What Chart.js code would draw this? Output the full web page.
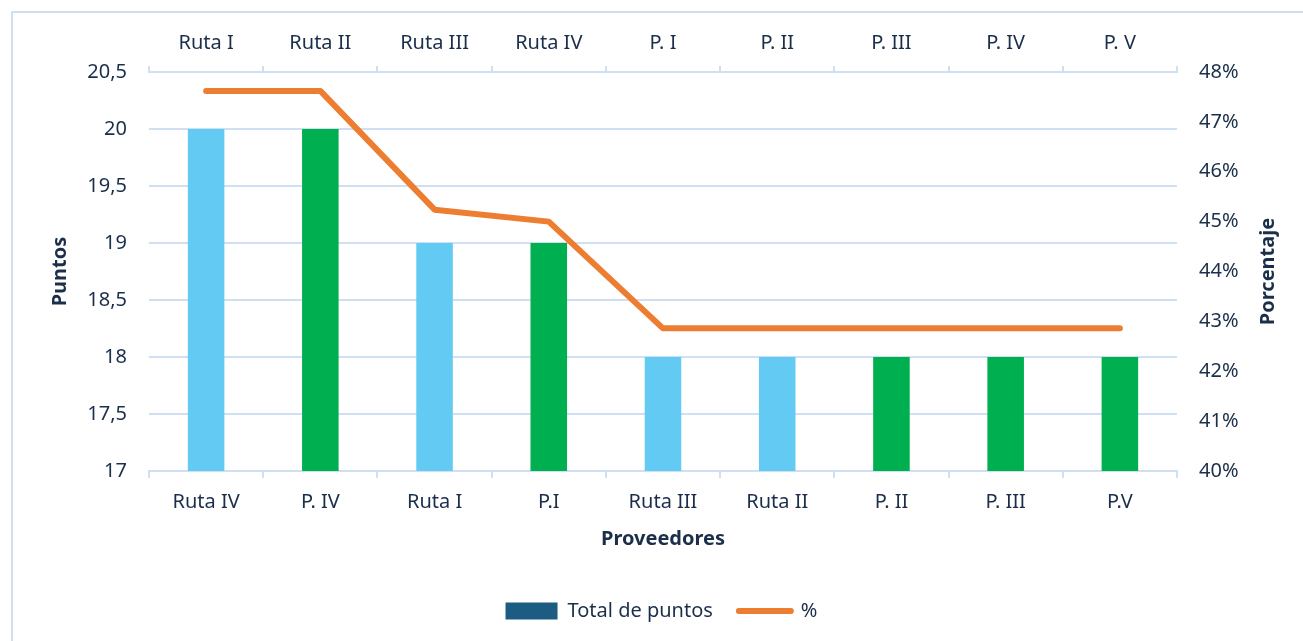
<!DOCTYPE html>
<html>
<head>
<meta charset="utf-8">
<script src="https://cdn.jsdelivr.net/npm/chart.js@4"></script>
<style>
  html, body { margin: 0; padding: 0; background: #fff; overflow: hidden; }
  #frame { position: absolute; left: 11px; top: 11px; width: 1400px; height: 700px; border: 2px solid #cfe0f2; box-sizing: border-box; }
  #wrap { position: absolute; left: 0; top: 0; width: 1303px; height: 641px; }
</style>
</head>
<body>
<div id="frame"></div>
<div id="wrap"><canvas id="chart"></canvas></div>
<script>
// Chart data
const bottomLabels = ['Ruta IV', 'P. IV', 'Ruta I', 'P.I', 'Ruta III', 'Ruta II', 'P. II', 'P. III', 'P.V'];
const topLabels = ['Ruta I', 'Ruta II', 'Ruta III', 'Ruta IV', 'P. I', 'P. II', 'P. III', 'P. IV', 'P. V'];
const puntos = [20, 20, 19, 19, 18, 18, 18, 18, 18];
const porcentaje = [47.62, 47.62, 45.24, 45.0, 42.86, 42.86, 42.86, 42.86, 42.86];
const barColors = ['#63cbf3', '#00b050', '#63cbf3', '#00b050', '#63cbf3', '#63cbf3', '#00b050', '#00b050', '#00b050'];

const textColor = '#1b2f4b';
const gridColor = '#cfe0f2';
const fontFamily = '"Noto Sans", "Open Sans", sans-serif';
const tickFont = { family: fontFamily, size: 20 };
const titleFont = { family: fontFamily, size: 20, weight: 'bold' };

// Right axis title, drawn bottom-to-top like the original
const rightTitle = {
  id: 'rightTitle',
  afterDraw(chart) {
    const { ctx, chartArea } = chart;
    ctx.save();
    ctx.translate(1268, (chartArea.top + chartArea.bottom) / 2);
    ctx.rotate(-Math.PI / 2);
    ctx.font = `bold 20px ${fontFamily}`;
    ctx.fillStyle = textColor;
    ctx.textAlign = 'center';
    ctx.textBaseline = 'middle';
    ctx.fillText('Porcentaje', 0, 0);
    ctx.restore();
  }
};

new Chart(document.getElementById('chart'), {
  data: {
    labels: bottomLabels,
    datasets: [{
      type: 'line',
      label: '%',
      data: porcentaje,
      yAxisID: 'y2',
      xAxisID: 'x',
      borderColor: '#ed7d31',
      backgroundColor: '#ed7d31',
      borderWidth: 6,
      borderCapStyle: 'round',
      borderJoinStyle: 'round',
      pointRadius: 0,
      tension: 0,
      order: 1
    }, {
      type: 'bar',
      label: 'Total de puntos',
      data: puntos,
      yAxisID: 'y',
      xAxisID: 'x',
      backgroundColor: barColors,
      barPercentage: 0.32,
      categoryPercentage: 1,
      order: 2
    }]
  },
  options: {
    responsive: true,
    maintainAspectRatio: false,
    animation: false,
    layout: { padding: { left: 20, right: 0, top: 0, bottom: 10 } },
    plugins: {
      tooltip: { enabled: false },
      legend: {
        position: 'bottom',
        labels: {
          color: textColor,
          font: tickFont,
          usePointStyle: true,
          pointStyleWidth: 52,
          boxHeight: 17,
          padding: 26,
          generateLabels: () => [
            { text: 'Total de puntos', fillStyle: '#1c5b82', strokeStyle: '#1c5b82', lineWidth: 0, pointStyle: 'rect', fontColor: textColor, datasetIndex: 1 },
            { text: '%', fillStyle: '#ed7d31', strokeStyle: '#ed7d31', lineWidth: 6, lineCap: 'round', pointStyle: 'line', fontColor: textColor, datasetIndex: 0 }
          ]
        }
      }
    },
    scales: {
      x: {
        position: 'bottom',
        offset: true,
        afterFit: s => { s.height = 104; },
        grid: { offset: true, drawOnChartArea: false, color: gridColor, tickLength: 7, lineWidth: 2 },
        border: { color: gridColor, width: 2 },
        ticks: { color: textColor, font: tickFont, padding: 12, maxRotation: 0 },
        title: { display: true, text: 'Proveedores', color: textColor, font: titleFont, padding: { top: 0, bottom: 24 } }
      },
      x2: {
        position: 'top',
        type: 'category',
        labels: topLabels,
        offset: true,
        afterFit: s => { s.height = 72; },
        grid: { offset: true, drawOnChartArea: false, color: gridColor, tickLength: 6, lineWidth: 2 },
        border: { color: gridColor, width: 2 },
        ticks: { color: textColor, font: tickFont, padding: 11, maxRotation: 0 }
      },
      y: {
        position: 'left',
        min: 17,
        max: 20.5,
        afterFit: s => { s.width = 129; },
        ticks: {
          stepSize: 0.5,
          color: textColor,
          font: tickFont,
          padding: 22,
          callback: v => String(v).replace('.', ',')
        },
        grid: { color: gridColor, lineWidth: 2, drawTicks: false },
        border: { display: false },
        title: { display: true, text: 'Puntos', color: textColor, font: titleFont, padding: { top: 28, bottom: 0 } }
      },
      y2: {
        position: 'right',
        min: 40,
        max: 48,
        afterFit: s => { s.width = 126; },
        ticks: {
          stepSize: 1,
          color: textColor,
          font: tickFont,
          padding: 22,
          callback: v => v + '%'
        },
        grid: { drawOnChartArea: false, drawTicks: false },
        border: { display: false }
      }
    }
  },
  plugins: [rightTitle]
});
</script>
</body>
</html>
